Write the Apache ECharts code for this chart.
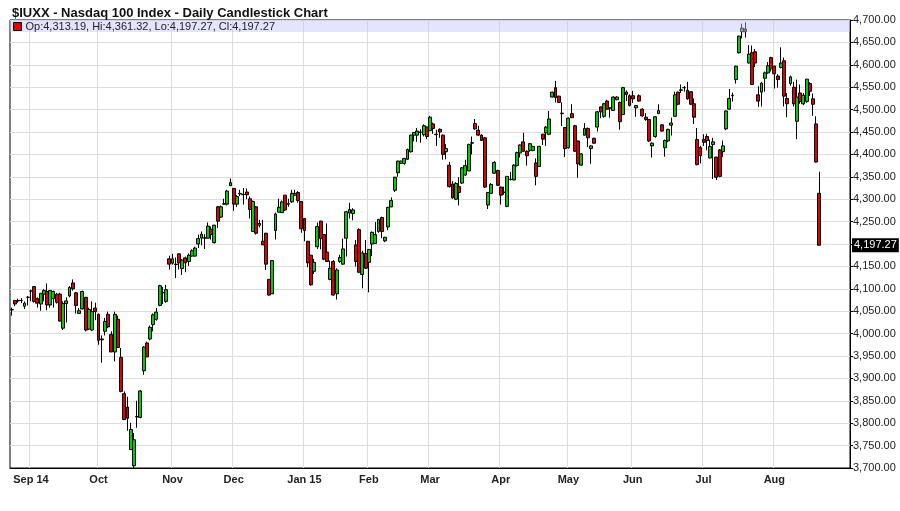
<!DOCTYPE html>
<html>
<head>
<meta charset="utf-8">
<script src="https://cdn.jsdelivr.net/npm/echarts@6/dist/echarts.min.js"></script>
<style>
  html, body { margin: 0; padding: 0; background: #fff; }
  #chart { width: 900px; height: 511px; }
</style>
</head>
<body>
<div id="chart"></div>
<script>
// daily bars, one row per session: [open, high, low, close]
const aug14 = [
  [4053,4058,4040,4054],[4074,4075,4061,4066],[4073,4078,4069,4074],[4074,4079,4068,4074],
  [4061,4072,4055,4068],[4081,4084,4063,4081]
];
const sep14 = [
  [4095,4098,4072,4095],[4105,4106,4069,4072],[4078,4081,4058,4068],[4066,4090,4051,4090],
  [4088,4099,4072,4096],[4094,4112,4052,4064],[4064,4097,4058,4096],[4078,4096,4058,4094],
  [4088,4091,4067,4070],[4088,4091,4027,4028],[4012,4072,4008,4067],[4067,4081,4025,4073],
  [4084,4106,4081,4103],[4113,4121,4096,4100],[4091,4093,4045,4063],[4045,4057,4045,4051],
  [4055,4096,4054,4094],[4081,4082,4005,4008],[4010,4058,4008,4054],[4008,4072,4006,4049],
  [4057,4069,4030,4049]
];
const oct14 = [
  [4043,4045,3975,3985],[3986,3996,3935,3988],[4005,4035,3996,4027],[4043,4049,4012,4015],
  [3998,4005,3959,3959],[3959,4049,3938,4043],[4032,4040,3968,3969],[3947,3968,3869,3871],
  [3866,3871,3808,3808],[3836,3859,3783,3811],[3741,3801,3741,3786],[3705,3778,3699,3763],
  [3814,3850,3790,3815],[3813,3874,3811,3872],[3917,3972,3908,3970],[3979,3982,3948,3948],
  [3988,4018,3985,4014],[4020,4045,4005,4042],[4032,4057,4029,4048],[4063,4109,4061,4107],
  [4091,4104,4066,4092],[4072,4109,4069,4098],[4167,4174,4143,4155]
];
const nov14 = [
  [4157,4178,4154,4167],[4155,4170,4124,4154],[4178,4179,4143,4158],[4145,4167,4131,4164],
  [4169,4172,4137,4158],[4161,4179,4151,4175],[4173,4188,4172,4185],[4173,4194,4172,4191],
  [4200,4221,4191,4212],[4213,4228,4197,4222],[4213,4222,4189,4214],[4213,4248,4213,4240],
  [4233,4239,4210,4221],[4203,4243,4201,4242],[4283,4285,4236,4251],[4260,4286,4258,4283],
  [4289,4301,4288,4290],[4289,4321,4286,4318],[4330,4346,4330,4337]
];
const dec14 = [
  [4324,4325,4274,4289],[4289,4309,4283,4306],[4312,4321,4307,4313],[4310,4325,4288,4311],
  [4316,4324,4300,4310],[4301,4306,4257,4277],[4228,4297,4227,4295],[4283,4285,4221,4224],
  [4242,4254,4237,4246],[4206,4254,4198,4198],[4224,4225,4142,4155],[4121,4121,4085,4086],
  [4089,4164,4088,4163],[4230,4270,4210,4267],[4271,4301,4270,4282],[4270,4297,4270,4294],
  [4309,4309,4274,4276],[4289,4301,4283,4290],[4294,4321,4292,4313],[4309,4321,4307,4313],
  [4315,4318,4292,4297],[4295,4295,4225,4234]
];
const jan15 = [
  [4257,4257,4206,4230],[4206,4207,4148,4158],[4175,4175,4107,4109],[4139,4167,4133,4159],
  [4194,4248,4189,4239],[4251,4252,4188,4212],[4221,4221,4164,4166],[4182,4246,4160,4161],
  [4121,4163,4119,4146],[4161,4164,4085,4086],[4089,4146,4076,4142],[4161,4176,4158,4170],
  [4155,4212,4154,4189],[4213,4274,4172,4272],[4269,4292,4257,4277],[4268,4280,4253,4276],
  [4198,4209,4150,4161],[4232,4235,4135,4137],[4132,4185,4101,4180],[4179,4209,4144,4146]
];
const feb15 = [
  [4159,4188,4092,4188],[4200,4228,4173,4226],[4201,4249,4200,4221],[4228,4256,4225,4255],
  [4259,4261,4213,4228],[4207,4216,4204,4215],[4238,4283,4231,4282],[4283,4304,4282,4297],
  [4320,4350,4316,4349],[4359,4386,4350,4385],[4380,4386,4379,4385],[4380,4392,4377,4391],
  [4389,4413,4388,4411],[4406,4444,4404,4443],[4443,4450,4429,4449],[4443,4459,4428,4452],
  [4449,4456,4426,4450],[4444,4467,4440,4464],[4461,4462,4434,4440]
];
const mar15 = [
  [4453,4486,4452,4483],[4468,4471,4446,4458],[4444,4455,4419,4445],[4456,4458,4437,4450],
  [4443,4444,4388,4400],[4406,4423,4389,4413],[4376,4383,4326,4328],[4334,4340,4301,4303],
  [4300,4338,4298,4335],[4328,4349,4286,4315],[4336,4372,4334,4370],[4354,4388,4352,4375],
  [4363,4424,4363,4422],[4425,4440,4400,4426],[4469,4479,4455,4457],[4454,4464,4442,4443],
  [4443,4445,4430,4431],[4437,4439,4325,4327],[4287,4316,4278,4315],[4313,4336,4313,4333],
  [4358,4385,4357,4382],[4364,4366,4330,4331]
];
const apr15 = [
  [4327,4328,4288,4309],[4315,4328,4310,4316],[4284,4351,4282,4351],[4344,4361,4342,4345],
  [4343,4378,4342,4376],[4375,4406,4373,4404],[4403,4422,4393,4421],[4428,4448,4406,4407],
  [4407,4409,4375,4397],[4409,4425,4406,4424],[4409,4419,4407,4418],[4381,4391,4331,4351],
  [4373,4419,4372,4418],[4445,4446,4421,4434],[4448,4463,4419,4461],[4445,4497,4443,4479],
  [4528,4540,4527,4539],[4549,4564,4516,4527],[4530,4531,4515,4516],[4492,4516,4463,4491],
  [4460,4461,4394,4413]
];
const may15 = [
  [4415,4482,4413,4481],[4491,4512,4481,4482],[4464,4466,4406,4407],[4430,4431,4348,4379],
  [4376,4403,4375,4401],[4443,4470,4442,4458],[4458,4460,4416,4437],[4413,4421,4379,4419],
  [4436,4437,4424,4425],[4461,4497,4451,4495],[4506,4507,4481,4495],[4485,4515,4482,4513],
  [4519,4522,4500,4501],[4503,4504,4482,4504],[4498,4530,4497,4528],[4522,4530,4521,4528],
  [4516,4518,4455,4473],[4489,4551,4488,4549],[4539,4543,4519,4534],[4531,4534,4507,4509]
];
const jun15 = [
  [4531,4542,4515,4524],[4504,4510,4484,4509],[4531,4534,4518,4519],[4501,4503,4484,4486],
  [4483,4492,4475,4478],[4478,4479,4428,4430],[4419,4427,4393,4425],[4440,4485,4437,4484],
  [4491,4512,4491,4498],[4466,4467,4451,4452],[4415,4433,4395,4431],[4430,4457,4427,4456],
  [4465,4482,4442,4470],[4485,4540,4485,4533],[4539,4540,4510,4512],[4543,4556,4537,4544],
  [4549,4553,4540,4549],[4543,4562,4522,4524],[4540,4541,4510,4512],[4513,4525,4468,4483],
  [4433,4459,4376,4377],[4415,4419,4380,4397]
];
const jul15 = [
  [4433,4445,4419,4427],[4440,4446,4409,4431],[4392,4433,4391,4418],[4422,4437,4345,4428],
  [4394,4395,4343,4349],[4410,4412,4349,4351],[4406,4431,4394,4419],[4457,4498,4454,4497],
  [4501,4546,4500,4525],[4531,4538,4518,4532],[4567,4598,4558,4597],[4627,4665,4625,4664],
  [4674,4692,4659,4682],[4680,4695,4661,4674],[4604,4644,4603,4624],[4627,4643,4555,4556],
  [4629,4635,4595,4604],[4533,4552,4506,4519],[4539,4562,4507,4559],[4570,4585,4540,4582],
  [4582,4606,4580,4598],[4616,4618,4585,4591]
];
const aug15 = [
  [4597,4598,4547,4580],[4575,4579,4549,4567],[4594,4639,4592,4604],[4609,4616,4507,4530],
  [4525,4537,4483,4513],[4558,4576,4553,4573],[4550,4562,4507,4513],[4474,4567,4434,4528],
  [4537,4556,4513,4518],[4513,4537,4510,4532],[4518,4568,4515,4568],[4558,4561,4530,4541],
  [4524,4536,4486,4512],[4468,4485,4382,4383],[4313.19,4361.32,4197.27,4197.27]
];

const holidays = ['2014-09-01','2014-11-27','2014-12-25','2015-01-01','2015-01-19',
                  '2015-02-16','2015-04-03','2015-05-25','2015-07-03'];
const monthNames = ['Jan','Feb','Mar','Apr','May','Jun','Jul','Aug','Sep','Oct','Nov','Dec'];
const yTicks = { min: 3700, max: 4700, step: 50 };
const blankDays = 9;   // empty room right of the last bar

const bars = [].concat(aug14, sep14, oct14, nov14, dec14, jan15, feb15,
                       mar15, apr15, may15, jun15, jul15, aug15);

function tradingDays(start, n) {
  const out = [];
  const d = new Date(start + 'T12:00:00Z');
  while (out.length < n) {
    const s = d.toISOString().slice(0, 10);
    const wd = d.getUTCDay();
    if (wd !== 0 && wd !== 6 && holidays.indexOf(s) < 0) out.push(s);
    d.setUTCDate(d.getUTCDate() + 1);
  }
  return out;
}
const dates = tradingDays('2014-08-22', bars.length + blankDays);

function monthStart(i) {
  return i > 0 && i < bars.length && dates[i].slice(5, 7) !== dates[i - 1].slice(5, 7);
}
let firstLabel = -1;
for (let i = 0; i < bars.length; i++) { if (monthStart(i)) { firstLabel = i; break; } }

function fmt(v) {
  const p = v.toFixed(2).split('.');
  return p[0].replace(/\B(?=(\d{3})+(?!\d))/g, ',') + '.' + p[1];
}

const last = bars[bars.length - 1];
const legendText = 'Op:' + fmt(last[0]) + ', Hi:' + fmt(last[1]) + ', Lo:' + fmt(last[2]) + ', Cl:' + fmt(last[3]);
const font = '"Liberation Sans", Arial, sans-serif';

const option = {
  animation: false,
  backgroundColor: '#fff',
  textStyle: { fontFamily: font },
  title: {
    text: '$IUXX - Nasdaq 100 Index - Daily Candlestick Chart',
    left: 7,
    top: 2,
    textStyle: { fontSize: 13, fontWeight: 'bold', color: '#111', fontFamily: font }
  },
  legend: {
    left: 13,
    top: 21,
    padding: 0,
    z: 20,
    selectedMode: false,
    itemWidth: 8,
    itemHeight: 8,
    itemGap: 4,
    textStyle: { fontSize: 11, color: '#222', fontFamily: font, padding: [0, 0, 0, -1] },
    data: [{ name: legendText, icon: 'rect',
             itemStyle: { color: '#e00000', borderColor: '#000', borderWidth: 1 } }]
  },
  graphic: [{
    type: 'rect', left: 10, top: 20, z: 10, silent: true,
    shape: { width: 840, height: 12 },
    style: { fill: 'rgba(196,196,250,0.45)' }
  }],
  grid: {
    left: 10, right: 50, top: 20, bottom: 43,
    show: true, borderColor: '#000', borderWidth: 1, backgroundColor: '#fff'
  },
  xAxis: {
    type: 'category',
    data: dates,
    boundaryGap: true,
    axisLine: { lineStyle: { color: '#000' } },
    axisTick: { interval: monthStart, alignWithLabel: true, length: 4, lineStyle: { color: '#000' } },
    axisLabel: {
      interval: monthStart,
      margin: 6,
      fontSize: 11,
      fontWeight: 'bold',
      color: '#222',
      formatter: function (value, idx) {
        const m = +value.slice(5, 7) - 1;
        let s = monthNames[m];
        if (m === 0 || idx === firstLabel) s += ' ' + value.slice(2, 4);
        return s;
      }
    },
    splitLine: { show: true, interval: monthStart, lineStyle: { color: '#dcdcdc' } }
  },
  yAxis: {
    type: 'value',
    position: 'right',
    scale: true,
    min: yTicks.min,
    max: yTicks.max,
    interval: yTicks.step,
    axisLine: { show: true, lineStyle: { color: '#000' } },
    axisTick: { show: true, length: 3, lineStyle: { color: '#000' } },
    axisLabel: { margin: 3, fontSize: 11, color: '#222', formatter: fmt },
    splitLine: { lineStyle: { color: '#dcdcdc' } }
  },
  series: [{
    name: legendText,
    type: 'candlestick',
    barWidth: 3.4,
    z: 2,
    data: bars.map(r => [r[0], r[3], r[2], r[1]]),
    itemStyle: {
      color: '#00d000',
      color0: '#e00000',
      borderColor: '#000',
      borderColor0: '#000',
      borderColorDoji: '#000',
      borderWidth: 1
    },
    markLine: {
      silent: true,
      symbol: ['none', 'none'],
      lineStyle: { color: 'rgba(0,0,0,0)', width: 0 },
      label: {
        position: 'end',
        distance: 2,
        formatter: fmt(last[3]),
        backgroundColor: '#000',
        color: '#fff',
        fontSize: 11,
        padding: [2, 2, 1, 2]
      },
      data: [{ yAxis: last[3] }]
    }
  }]
};

const chart = echarts.init(document.getElementById('chart'));
chart.setOption(option);
</script>
</body>
</html>
